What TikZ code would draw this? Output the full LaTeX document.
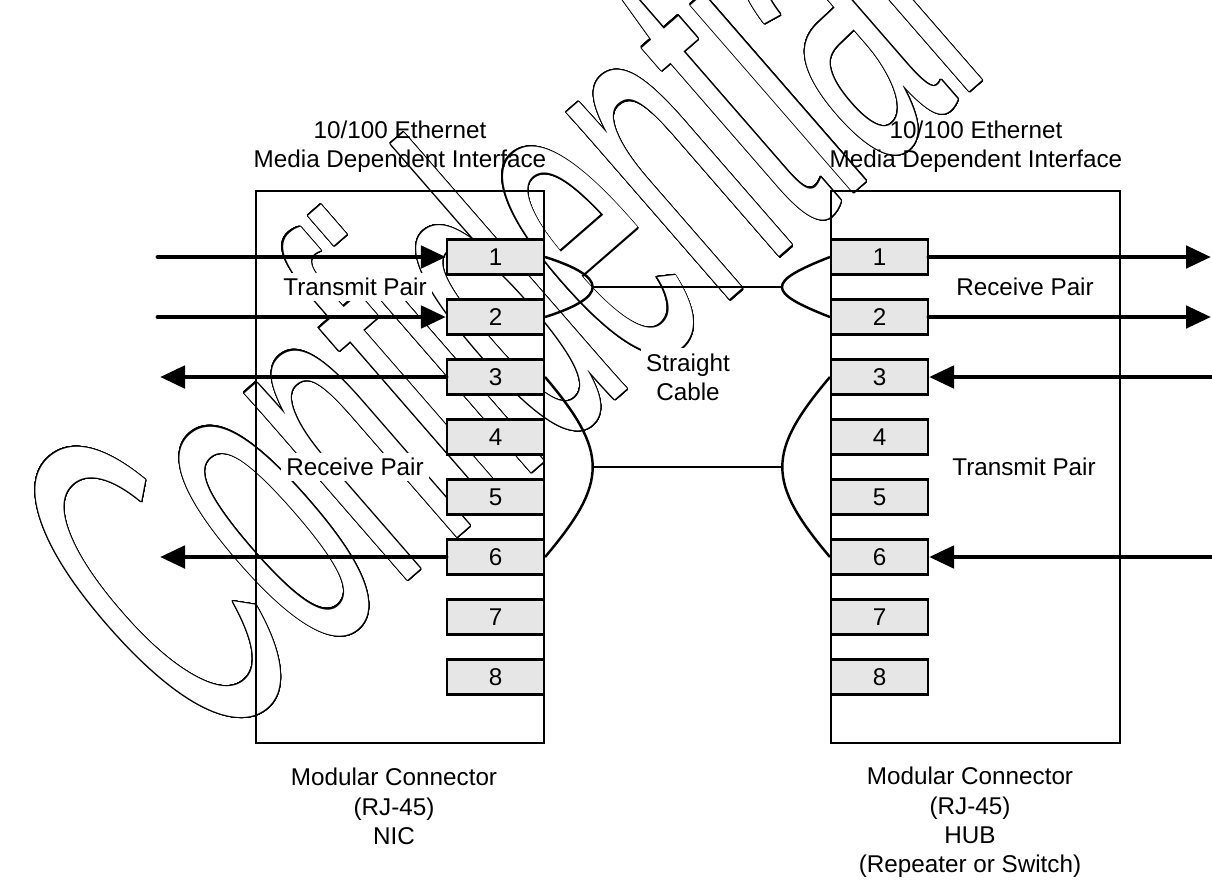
\documentclass[tikz,border=0pt]{standalone}
\usepackage{fontspec}
\setmainfont{Liberation Sans}
\usepackage{contour}
\usetikzlibrary{arrows.meta,positioning,calc}
\definecolor{pingray}{HTML}{E6E6E6}
\contourlength{0.9pt}

\begin{document}
\begin{tikzpicture}[
    every node/.style={font=\fontsize{13.8}{16.6}\selectfont},
    jackbox/.style={draw, line width=1.3pt},
    pinbox/.style={draw, line width=1.2pt, fill=pingray, minimum width=1.94cm, minimum height=0.7cm, inner sep=0pt},
    sigarrow/.style={line width=2.8pt, line cap=round, -{Triangle[length=0.5cm, width=0.44cm]}},
    cable/.style={line width=1.4pt},
    pairlabel/.style={fill=white, inner sep=3pt}
]
    \useasboundingbox (0,0) rectangle (24.24,-17.6);

    % Watermark
    \node[anchor=base, rotate=41, inner sep=0pt] (mark) at (12.0,-8.26)
        {\scalebox{0.42}[1]{\fontsize{267}{280}\selectfont\textcolor{white}{\contour[32]{black}{Confidential}}}};

    % Connector housings
    \draw[jackbox] (5.12,-3.82) rectangle (10.88,-14.86);
    \draw[jackbox] (16.62,-3.82) rectangle (22.40,-14.86);

    % Interface titles
    \node[align=center, anchor=north, inner sep=0pt] (lmdi) at (8.0,-2.41) {10/100 Ethernet\\Media Dependent Interface};
    \node[align=center, anchor=north, inner sep=0pt] (rmdi) at (19.52,-2.41) {10/100 Ethernet\\Media Dependent Interface};

    % Pair labels
    \node[pairlabel] (ltx) at (7.1,-5.74) {Transmit Pair};
    \node[pairlabel] (lrx) at (7.1,-9.34) {Receive Pair};
    \node[pairlabel] (rrx) at (20.5,-5.74) {Receive Pair};
    \node[pairlabel] (rtx) at (20.48,-9.34) {Transmit Pair};
    \node[pairlabel, align=center] (straight) at (13.76,-7.54) {Straight\\Cable};

    % Device names
    \node[align=center, anchor=north, inner sep=0pt] (nic) at (7.88,-15.36) {Modular Connector\\(RJ-45)\\NIC};
    \node[align=center, anchor=north, inner sep=0pt] (hub) at (19.4,-15.34) {Modular Connector\\(RJ-45)\\HUB\\(Repeater or Switch)};

    % Pins 1-8
    \foreach \n in {1,...,8} {
        \node[pinbox] (L\n) at (9.91,{-5.14-1.2*(\n-1)}) {\n};
        \node[pinbox] (R\n) at (17.59,{-5.14-1.2*(\n-1)}) {\n};
    }

    % NIC side signals
    \foreach \n in {1,2} {
        \coordinate (lin\n) at (3.16,0 |- L\n);
        \draw[sigarrow] (lin\n) -- (L\n.west);
    }
    \foreach \n in {3,6} {
        \coordinate (lout\n) at (3.2,0 |- L\n);
        \draw[sigarrow] (L\n.west) -- (lout\n);
    }

    % HUB side signals
    \foreach \n in {1,2} {
        \coordinate (rout\n) at (24.22,0 |- R\n);
        \draw[sigarrow] (R\n.east) -- (rout\n);
    }
    \foreach \n in {3,6} {
        \coordinate (rin\n) at (24.3,0 |- R\n);
        \draw[sigarrow] (rin\n) -- (R\n.east);
    }

    % Twisted pairs and cable
    \draw[cable] (L1.east) .. controls +(1.27,-0.4) and +(1.27,0.4) .. coordinate[pos=0.5] (lpa) (L2.east);
    \draw[cable] (L3.east) .. controls +(1.27,-1.5) and +(1.27,1.5) .. coordinate[pos=0.5] (lpb) (L6.east);
    \draw[cable] (R1.west) .. controls +(-1.28,-0.5) and +(-1.28,0.5) .. coordinate[pos=0.5] (rpa) (R2.west);
    \draw[cable] (R3.west) .. controls +(-1.27,-1.5) and +(-1.27,1.5) .. coordinate[pos=0.5] (rpb) (R6.west);
    \draw[line width=1pt] (lpa) -- (rpa);
    \draw[line width=1pt] (lpb) -- (rpb);
\end{tikzpicture}
\end{document}
